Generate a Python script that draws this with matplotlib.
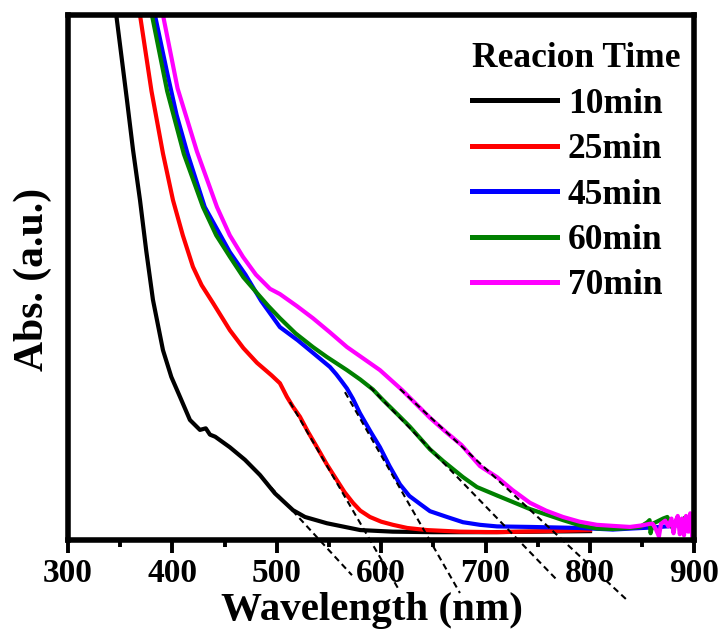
import matplotlib
matplotlib.use("Agg")
import matplotlib.pyplot as plt

plt.rcParams['font.family'] = ['Liberation Serif', 'DejaVu Serif']
plt.rcParams['font.weight'] = 'bold'

# 1. DATOS
wl_10 = [340, 346.9, 356.5, 362.3, 369.0, 375, 381.4, 391.0, 399, 407.3, 416.8, 426.4,
         432, 436, 441, 455, 469.5, 483.9, 498.2, 515.5, 527, 548, 580, 611, 650, 700, 750, 800]
abs_10 = [1.10, 0.990, 0.838, 0.743, 0.647, 0.55, 0.457, 0.361, 0.31, 0.272, 0.228, 0.209,
          0.212, 0.200, 0.196, 0.176, 0.152, 0.123, 0.088, 0.056, 0.043, 0.031, 0.018, 0.015,
          0.014, 0.014, 0.015, 0.016]

wl_25 = [362, 369.0, 380, 391.0, 400.6, 410, 419.7, 428, 438.9, 455.1, 468, 481.0, 495, 503.0,
         509.7, 515.5, 522.2, 530, 538.5, 548, 557.6, 565, 572.9, 580, 589.2, 600, 611.3, 625,
         643.8, 675.4, 710.9, 760, 800]
abs_25 = [1.10, 1.00, 0.855, 0.736, 0.647, 0.58, 0.520, 0.485, 0.451, 0.399, 0.365, 0.337,
          0.313, 0.298, 0.272, 0.253, 0.234, 0.205, 0.176, 0.143, 0.113, 0.090, 0.070, 0.055,
          0.043, 0.034, 0.028, 0.022, 0.018, 0.015, 0.014, 0.016, 0.018]

wl_45 = [372, 383.3, 395, 404, 414.5, 431, 455, 470, 485, 503.0, 520, 534.6, 550.9, 557,
         562, 567.2, 573, 579.6, 590, 598.8, 608, 618.0, 627, 637.1, 646.7, 663.0, 678.3, 694.6,
         710.9, 742.5, 790.3, 821.9, 840, 860, 880, 890, 899.5]
abs_45 = [1.10, 1.00, 0.89, 0.81, 0.736, 0.634, 0.548, 0.505, 0.455, 0.405, 0.38, 0.356,
          0.329, 0.315, 0.302, 0.288, 0.268, 0.241, 0.205, 0.176, 0.14, 0.105, 0.083, 0.068,
          0.054, 0.043, 0.033, 0.028, 0.025, 0.024, 0.022, 0.019, 0.021, 0.023, 0.026, 0.030,
          0.038]

wl_60 = [370, 380.4, 395, 411, 429.3, 442, 455.1, 468, 481.0, 492, 503.0, 518, 534.6, 548.0,
         567.2, 580, 592.1, 601.7, 618.0, 627.5, 646.7, 659.1, 678.3, 691.7, 710.9, 742.5,
         774.1, 790.3, 806.6, 822, 838, 848, 855, 857, 858, 860, 865, 870, 874, 877, 879, 883,
         887, 891, 895, 898, 899.5]
abs_60 = [1.12, 1.00, 0.855, 0.735, 0.634, 0.58, 0.539, 0.50, 0.470, 0.445, 0.422, 0.393,
          0.367, 0.348, 0.323, 0.305, 0.286, 0.266, 0.234, 0.215, 0.172, 0.150, 0.119, 0.100,
          0.084, 0.058, 0.037, 0.027, 0.021, 0.020, 0.022, 0.024, 0.033, 0.037, 0.012, 0.030,
          0.035, 0.040, 0.043, 0.030, 0.022, 0.038, 0.030, 0.042, 0.025, 0.010, 0.040]

wl_70 = [378, 391.0, 405, 423.5, 442.7, 455, 467.6, 480, 493.5, 503.0, 519.3, 534.6, 550.9,
         567.2, 583, 598.8, 620, 646.7, 662, 677, 694.6, 710.9, 726, 742.5, 758, 774.1, 790,
         806.6, 822, 838.2, 850, 857.4, 860, 863, 866, 868, 872, 875, 878, 880, 882, 884, 886,
         888, 890, 892, 894, 896, 898, 899.5]
abs_70 = [1.12, 1.00, 0.86, 0.74, 0.634, 0.58, 0.539, 0.505, 0.478, 0.468, 0.445, 0.422,
          0.395, 0.367, 0.345, 0.323, 0.285, 0.232, 0.205, 0.180, 0.140, 0.119, 0.094, 0.070,
          0.055, 0.043, 0.034, 0.028, 0.026, 0.024, 0.027, 0.030, 0.030, 0.020, 0.006, 0.030,
          0.036, 0.025, 0.040, 0.012, 0.035, 0.045, 0.010, 0.040, 0.008, 0.045, 0.015, 0.050,
          0.005, 0.045]

series = [
    (wl_10, abs_10, 'black', '10min'),
    (wl_25, abs_25, 'red', '25min'),
    (wl_45, abs_45, 'blue', '45min'),
    (wl_60, abs_60, 'green', '60min'),
    (wl_70, abs_70, 'magenta', '70min'),
]

# tangentes (inicio y fin)
tan_x0 = [474.3, 512.6, 565.3, 589.2, 618.0]
tan_y0 = [0.143, 0.262, 0.281, 0.291, 0.287]
tan_x1 = [572.0, 617.0, 675.4, 768.3, 836.3]
tan_y1 = [-0.068, -0.096, -0.102, -0.077, -0.117]

# 2. GRAFICA
fig = plt.figure(figsize=(7.23, 6.40), dpi=100)
ax = fig.add_axes([0.094, 0.157, 0.8665, 0.8195])

for wl, ab, color, label in series:
    ax.plot(wl, ab, color=color, linewidth=3, label=label)

for x0, y0, x1, y1 in zip(tan_x0, tan_y0, tan_x1, tan_y1):
    ax.plot([x0, x1], [y0, y1], color='black', linestyle=(0, (3, 2)),
            linewidth=1.5, clip_on=False, zorder=5)

ax.set_xlim(300, 900)
ax.set_ylim(0, 1.0)
ax.set_yticks([])
ax.set_xticks(range(300, 901, 100))
ax.set_xticks(range(350, 900, 100), minor=True)
ax.tick_params(axis='x', which='major', direction='out', length=9.5, width=2.8,
               labelsize=24, pad=4)
ax.tick_params(axis='x', which='minor', direction='out', length=5, width=2.8)

for sp in ax.spines.values():
    sp.set_linewidth(4)

ax.set_xlabel('Wavelength (nm)', fontsize=29.5, fontweight='bold')
ax.xaxis.set_label_coords(0.486, -0.100)
ax.set_ylabel('Abs. (a.u.)', fontsize=30, fontweight='bold')
ax.yaxis.set_label_coords(-0.026, 0.495)

leg = ax.legend(title='Reacion Time', loc='upper left', bbox_to_anchor=(0.645, 0.948),
                frameon=False, fontsize=25.5, title_fontproperties={'size': 25.5, 'weight': 'bold'},
                handlelength=2.4, handletextpad=0.3, labelspacing=0.35, borderpad=0,
                borderaxespad=0, alignment='left')
for line in leg.get_lines():
    line.set_linewidth(3.6)

fig.savefig('out.png', dpi=100)
